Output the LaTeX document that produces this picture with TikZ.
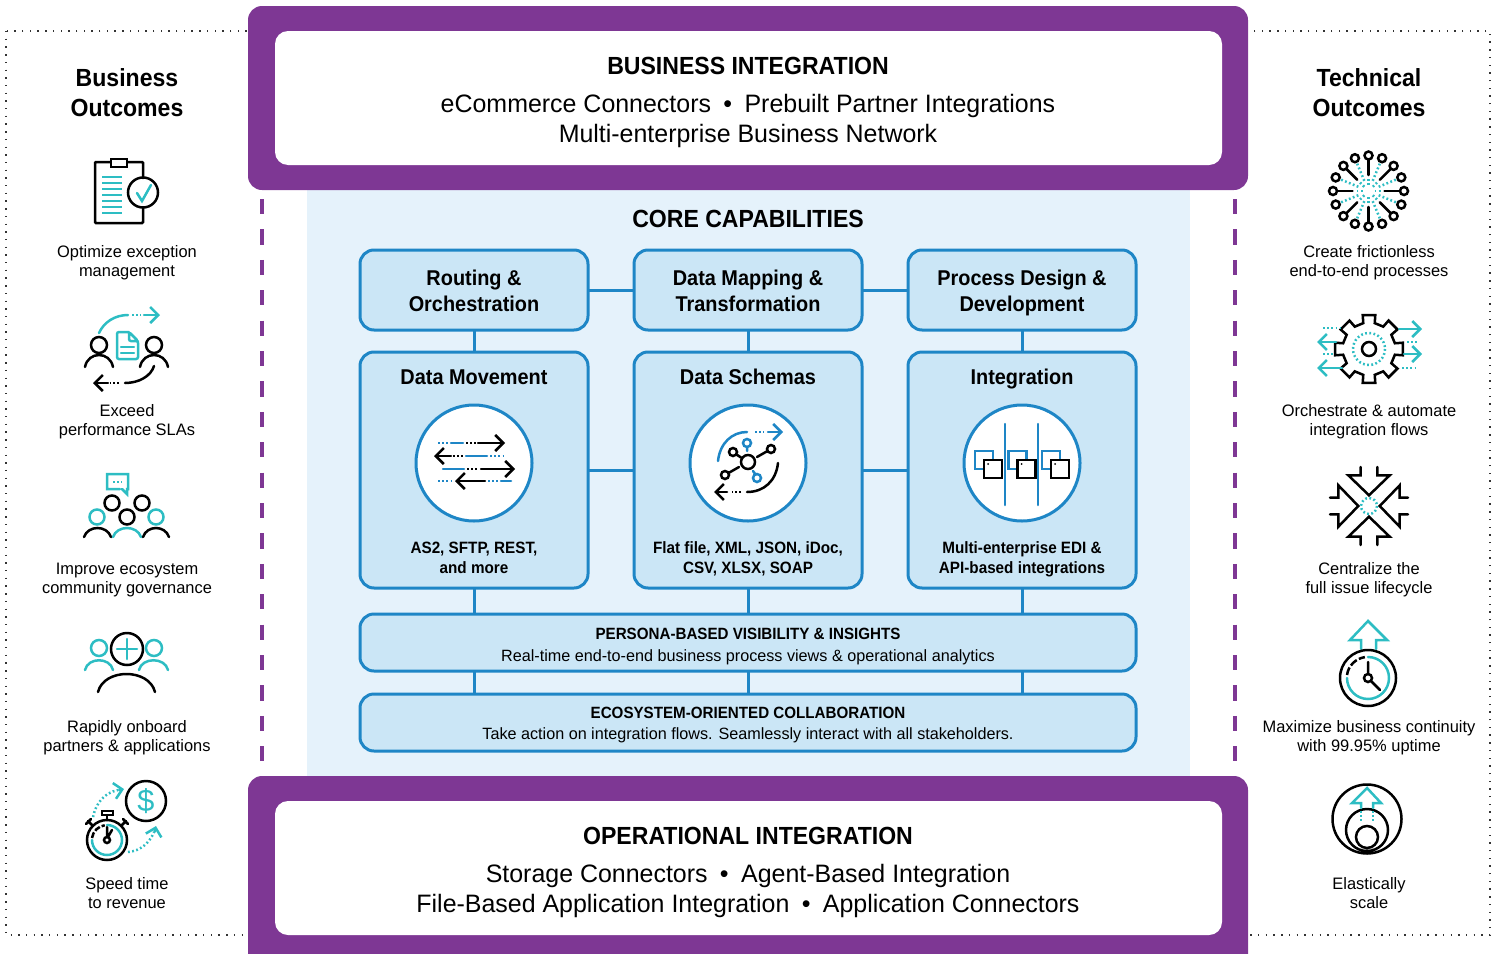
\documentclass[tikz,border=0pt]{standalone}
\usepackage{fontspec}
\setmainfont{Liberation Sans}[FakeStretch=.99,BoldFeatures={FakeStretch=.93}]
\usetikzlibrary{arrows.meta}
\definecolor{bandpurple}{HTML}{7E3794}
\definecolor{linkblue}{HTML}{1E86C6}
\definecolor{boxblue}{HTML}{CBE6F6}
\definecolor{paneblue}{HTML}{E5F2FB}
\definecolor{iconteal}{HTML}{2DBDC3}
\tikzset{
  struts/.style={execute at begin node=\strut,execute at end node=\strut},
  band/.style={fill=bandpurple,rounded corners=7pt,minimum width=500pt,inner sep=0pt},
  bandin/.style={fill=white,rounded corners=6.5pt,minimum width=473.5pt,minimum height=67pt,inner sep=0pt},
  bandtitle/.style={font=\fontsize{12.4}{15}\bfseries\selectfont},
  bandtext/.style={font=\fontsize{12.6}{15}\selectfont,align=center,struts},
  capbox/.style={draw=linkblue,line width=1.5pt,fill=boxblue,rounded corners=7pt,minimum width=114pt,inner sep=0pt,outer sep=0pt},
  captitle/.style={font=\fontsize{10.7}{12.7}\bfseries\selectfont,align=center,struts},
  capnote/.style={font=\fontsize{8.2}{9.7}\bfseries\selectfont,align=center,struts},
  bartitle/.style={font=\fontsize{8.15}{10}\bfseries\selectfont},
  bartext/.style={font=\fontsize{8.17}{10}\selectfont},
  outhead/.style={font=\fontsize{12.4}{15}\bfseries\selectfont,align=center,struts},
  outtext/.style={font=\fontsize{8.3}{9.75}\selectfont,align=center,struts},
  iconring/.style={draw=linkblue,line width=1.5pt,fill=white,circle,minimum size=58pt,inner sep=0pt,outer sep=0pt},
  link/.style={draw=linkblue,line width=1.5pt},
  ik/.style={draw=black,line width=1.25pt,line cap=round},
  it/.style={draw=iconteal,line width=1.25pt,line cap=round},
  ib/.style={draw=linkblue,line width=1.25pt,line cap=round},
  idots/.style={dash pattern=on .9pt off 1.2pt,line cap=butt},
  head/.style={-{Straight Barb[length=4pt,width=8pt,line width=1.25pt]}},
  framedots/.style={draw=black!80,line width=.6pt,dash pattern=on .7pt off 3.15pt},
  sidedash/.style={draw=bandpurple,line width=1.8pt,dash pattern=on 7.6pt off 7.6pt}
}
\begin{document}
\begin{tikzpicture}[x=.5pt,y=-.5pt]
\path[use as bounding box,clip] (0,0) rectangle (1499,953);
\draw[framedots] (6,31) rectangle (1490,935);
\fill[paneblue] (307,185) rectangle (1190,780);
\draw[sidedash] (262,199) -- (262,764);
\draw[sidedash] (1235,199) -- (1235,764);

%Bands
\node[band,minimum height=92pt] (BIband) at (748,98) {};
\node[bandin] (BI) at (748.5,98) {};
\node[bandtitle] (BItitle) at (748,66) {BUSINESS INTEGRATION};
\node[bandtext] (BItext) at (748,123) {eCommerce Connectors\hspace{6.2pt}•\hspace{6.2pt}Prebuilt Partner Integrations\\Multi-enterprise Business Network};
\node[band,minimum height=100pt] (OIband) at (748,876) {};
\node[bandin] (OI) at (748.5,868) {};
\node[bandtitle] (OItitle) at (748,836) {OPERATIONAL INTEGRATION};
\node[bandtext] (OItext) at (748,893) {Storage Connectors\hspace{6.2pt}•\hspace{6.2pt}Agent-Based Integration\\File-Based Application Integration\hspace{6.2pt}•\hspace{6.2pt}Application Connectors};

%Core
\node[bandtitle] (CC) at (748,218.5) {CORE CAPABILITIES};
\node[capbox,minimum height=40pt] (RO) at (474,290) {};
\node[capbox,minimum height=40pt] (DT) at (748,290) {};
\node[capbox,minimum height=40pt] (PD) at (1022,290) {};
\node[capbox,minimum height=118pt] (DM) at (474,470) {};
\node[capbox,minimum height=118pt] (DS) at (748,470) {};
\node[capbox,minimum height=118pt] (IG) at (1022,470) {};
\node[capbox,minimum width=388pt,minimum height=28.5pt] (PV) at (748,642.5) {};
\node[capbox,minimum width=388pt,minimum height=28.5pt] (EC) at (748,722.5) {};

\node[captitle] (ROtext) at (474,294.5) {Routing \&\\Orchestration};
\node[captitle] (DTtext) at (748,294.5) {Data Mapping \&\\Transformation};
\node[captitle] (PDtext) at (1022,294.5) {Process Design \&\\Development};
\node[captitle] (DMtitle) at (474,379) {Data Movement};
\node[captitle] (DStitle) at (748,379) {Data Schemas};
\node[captitle] (IGtitle) at (1022,379) {Integration};
\node[iconring] (DMring) at (474,463) {};
\node[iconring] (DSring) at (748,463) {};
\node[iconring] (IGring) at (1022,463) {};
\node[capnote] (DMnote) at (474,560.5) {AS2, SFTP, REST,\\and more};
\node[capnote] (DSnote) at (748,560.5) {Flat file, XML, JSON, iDoc,\\CSV, XLSX, SOAP};
\node[capnote] (IGnote) at (1022,560.5) {Multi-enterprise EDI \&\\API-based integrations};
\node[bartitle] (PVtitle) at (748,634) {PERSONA-BASED VISIBILITY \& INSIGHTS};
\node[bartext] (PVtext) at (748,657) {Real-time end-to-end business process views \& operational analytics};
\node[bartitle] (ECtitle) at (748,713) {ECOSYSTEM-ORIENTED COLLABORATION};
\node[bartext] (ECtext) at (748,735.5) {Take action on integration flows. Seamlessly interact with all stakeholders.};

\draw[link] (RO) -- (DT);
\draw[link] (DT) -- (PD);
\draw[link] (DM) -- (DS);
\draw[link] (DS) -- (IG);
\draw[link] (RO) -- (DM);
\draw[link] (DT) -- (DS);
\draw[link] (PD) -- (IG);
\foreach \c in {DM,DS,IG}{
  \draw[link] (\c.south) -- (\c.south |- PV.north);
  \draw[link] (\c.south |- PV.south) -- (\c.south |- EC.north);
}

%Core icons
\draw[ib,idots] (438,443) -- (448,443);
\draw[ib] (451,443) -- (463,443);
\draw[ik,idots] (466,443) -- (476,443);
\draw[ik,head] (478,443) -- (505,443);
\draw[ik,head] (451,456) -- (434,456);
\draw[ik,idots] (453,456) -- (463,456);
\draw[ib] (466,456) -- (487,456);
\draw[ib,idots] (490,456) -- (503,456);
\draw[ib] (443,469) -- (464,469);
\draw[ik,idots] (467,469) -- (477,469);
\draw[ik,head] (481,469) -- (515,469);
\draw[ib,idots] (438,481) -- (452,481);
\draw[ik,head] (485,481) -- (455,481);
\draw[ib,idots] (488,481) -- (498,481);
\draw[ib] (501,481) -- (511,481);

\draw[ik] (748,462) circle[radius=7];
\draw[ib] (718,461) .. controls (720,443) and (732,432) .. (747,432);
\draw[ib,idots] (755,432) -- (764,432);
\draw[ib,head] (768,432) -- (783,432);
\draw[ik] (778,463) .. controls (776,481) and (764,492) .. (747,492);
\draw[ik,idots] (741,492) -- (732,492);
\draw[ik,head] (727,492) -- (714,492);
\draw[ik] (733,452) circle[radius=4] (771,449) circle[radius=4] (725,475) circle[radius=4];
\draw[ik] (736.5,454.5) -- (741,457.5) (767.5,451) -- (757,457) (728.5,473) -- (739,467);
\draw[ib] (747,443) circle[radius=4] (757,478) circle[radius=4];
\draw[ib] (747,447) -- (747,451) (755.5,474.5) -- (753,471);

\foreach \d in {0,33.5,67}{
  \draw[ib,line cap=butt] (984+\d,469) -- (975+\d,469) -- (975+\d,451) -- (993+\d,451) -- (993+\d,460);
  \draw[ik,line cap=butt] (984+\d,460) rectangle (1002+\d,478);
  \fill (988+\d,464) circle[radius=1];
}
\draw[ib] (1005,424) -- (1005,505);
\draw[ib] (1038,424) -- (1038,505);

%Left side
\node[outhead] (BO) at (127,97) {Business\\Outcomes};
\node[outtext] (BO1) at (127,264) {Optimize exception\\management};
\node[outtext] (BO2) at (127,423) {Exceed\\performance SLAs};
\node[outtext] (BO3) at (127,581) {Improve ecosystem\\community governance};
\node[outtext] (BO4) at (127,739) {Rapidly onboard\\partners \& applications};
\node[outtext] (BO5) at (127,896) {Speed time\\to revenue};

\draw[ik,rounded corners=.5pt] (143,178) -- (143,162) -- (95,162) -- (95,223) -- (143,223) -- (143,208);
\draw[ik,fill=white] (111,159) rectangle (127,167);
\foreach \y in {177,183,...,213}{
  \draw[it,line cap=butt] (102,\y) -- (122,\y);
}
\draw[ik] (143,192.5) circle[radius=15];
\draw[it] (137,193) -- (142,201) -- (151,185);

\draw[ik] (99,345) circle[radius=8] (154,345) circle[radius=8];
\draw[ik] (85,367) .. controls (88,351) and (110,351) .. (113,367);
\draw[ik] (140,367) .. controls (143,351) and (165,351) .. (168,367);
\draw[it,rounded corners=1pt] (129,332) -- (117,332) -- (117,359) -- (138,359) -- (138,341) -- (129,332) -- (129,341) -- (138,341);
\draw[it] (121,347) -- (134,347) (121,353) -- (134,353);
\draw[it] (99,333) .. controls (104,322) and (115,315) .. (128,315);
\draw[it,idots] (132,315) -- (141,315);
\draw[it,head] (144,315) -- (160,315);
\draw[ik] (154,366) .. controls (151,376) and (139,383) .. (125,383);
\draw[ik,idots] (119,383) -- (110,383);
\draw[ik,head] (108,383) -- (93,383);

\draw[it] (120,489) -- (107,489) -- (107,474) -- (128,474) -- (128,489) -- (127,489) -- (127,494) -- (122,489);
\draw[it,idots] (113,482) -- (122,482);
\draw[ik] (112,503) circle[radius=7.5] (142,503) circle[radius=7.5] (127,517) circle[radius=7.5];
\draw[it] (97,517) circle[radius=7.5] (156,517) circle[radius=7.5];
\draw[ik] (84,537) .. controls (88,525) and (107,525) .. (111,537);
\draw[it] (113,537) .. controls (117,525) and (137,525) .. (141,537);
\draw[ik] (143,537) .. controls (147,525) and (165,525) .. (169,537);

\draw[it] (99,648) circle[radius=8] (154,648) circle[radius=8];
\draw[ik] (127,649) circle[radius=16];
\draw[it] (117,649) -- (137,649) (127,639) -- (127,659);
\draw[it] (85,670) .. controls (88,657) and (110,657) .. (113,670);
\draw[it] (139,670) .. controls (142,657) and (165,657) .. (168,670);
\draw[ik] (98,692) .. controls (104,668) and (149,668) .. (155,692);

\draw[ik] (107,840) circle[radius=20] (146,801) circle[radius=20];
\draw[it] (107,825) arc[start angle=270,end angle=540,radius=15];
\draw[ik,line cap=butt,dash pattern=on 3pt off 1pt] (92,838) arc[start angle=188,end angle=262,radius=15];
\draw[ik] (107,840) circle[radius=3];
\draw[ik] (107,837) -- (107,827) (108,837) -- (112,830);
\draw[ik] (102,811) rectangle (113,815) (107,815) -- (107,820);
\draw[ik] (92,825) -- (88,821) (86,824) -- (91,819) (122,825) -- (126,821) (128,824) -- (123,819);
\node[text=iconteal,font=\fontsize{15.5}{16}\selectfont] (BOcash) at (146,801) {\$};
\draw[it,idots] (93,817) .. controls (96,803) and (104,793) .. (118,790);
\draw[it,head] (119,790) -- (124,789);
\draw[it,idots] (128,852) .. controls (141,851) and (150,842) .. (154,832);
\draw[it,head] (154.5,832) -- (156,826);

%Right side
\node[outhead] (TO) at (1369,97) {Technical\\Outcomes};
\node[outtext] (TO1) at (1369,264) {Create frictionless\\end-to-end processes};
\node[outtext] (TO2) at (1369,423) {Orchestrate \& automate\\integration flows};
\node[outtext] (TO3) at (1369,581) {Centralize the\\full issue lifecycle};
\node[outtext] (TO4) at (1369,739) {Maximize business continuity\\with 99.95\% uptime};
\node[outtext] (TO5) at (1369,896) {Elastically\\scale};

\begin{scope}[shift={(1368.5,191)}]
  \foreach \a in {0,45,...,315}{
    \draw[ik] (\a:16) -- (\a:31.5);
    \draw[it,idots] (\a:6) -- (\a:13);
    \draw[ik] (\a:35.5) circle[radius=4];
    \draw[it,idots] (\a+22.5:11) -- (\a+22.5:30);
    \draw[ik] (\a+22.5:35.5) circle[radius=4];
  }
\end{scope}

\begin{scope}[shift={(1369,349)}]
  \draw[ik,line cap=butt,line join=miter] (-12.5:26.5)
    \foreach \a in {0,45,...,315}{
      -- (\a-12.5:26.5) -- (\a-10.5:34.5) -- (\a+10.5:34.5) -- (\a+12.5:26.5)
    } -- cycle;
  \draw[ik] (0,0) circle[radius=7];
  \draw[it,idots] (0,0) circle[radius=16];
\end{scope}
\draw[it,head] (1399,329) -- (1422,329);
\draw[it,head] (1404,354) -- (1422,354);
\draw[it,idots] (1407,342) -- (1418,342);
\draw[it,idots] (1402,368) -- (1418,368);
\draw[it,head] (1336,342) -- (1317,342);
\draw[it,head] (1342,368) -- (1317,368);
\draw[it,idots] (1323,328) -- (1340,328);
\draw[it,idots] (1323,354) -- (1333,354);

\begin{scope}[shift={(1369,506)}]
  \foreach \a in {0,90,180,270}{
    \draw[ik,rotate=\a] (-8.3,-39) -- (-8.3,-30.7) -- (-20.7,-30.7) -- (0,-10.7) -- (20.7,-30.7) -- (8.3,-30.7) -- (8.3,-39);
  }
  \draw[it,idots] (0,0) circle[radius=8];
\end{scope}

\draw[it] (1361,649) -- (1361,640) -- (1350,640) -- (1368,621) -- (1387,640) -- (1376,640) -- (1376,649);
\draw[ik] (1368,678) circle[radius=28];
\draw[it] (1368,657) arc[start angle=270,end angle=540,radius=21];
\draw[ik,line cap=butt,dash pattern=on 4pt off 1.2pt] (1347,675) arc[start angle=188,end angle=262,radius=21];
\draw[ik] (1368,678) circle[radius=4];
\draw[ik] (1368,674) -- (1368,662) (1371,681) -- (1380,690);

\draw[ik] (1367,819) circle[radius=34.5] (1367,830) circle[radius=21] (1367,837) circle[radius=11];
\draw[it] (1361,808) -- (1361,803) -- (1352,803) -- (1367,788) -- (1381,803) -- (1373,803) -- (1373,808);
\draw[it,idots] (1361,811) -- (1361,822) (1373,811) -- (1373,822);
\end{tikzpicture}
\end{document}
